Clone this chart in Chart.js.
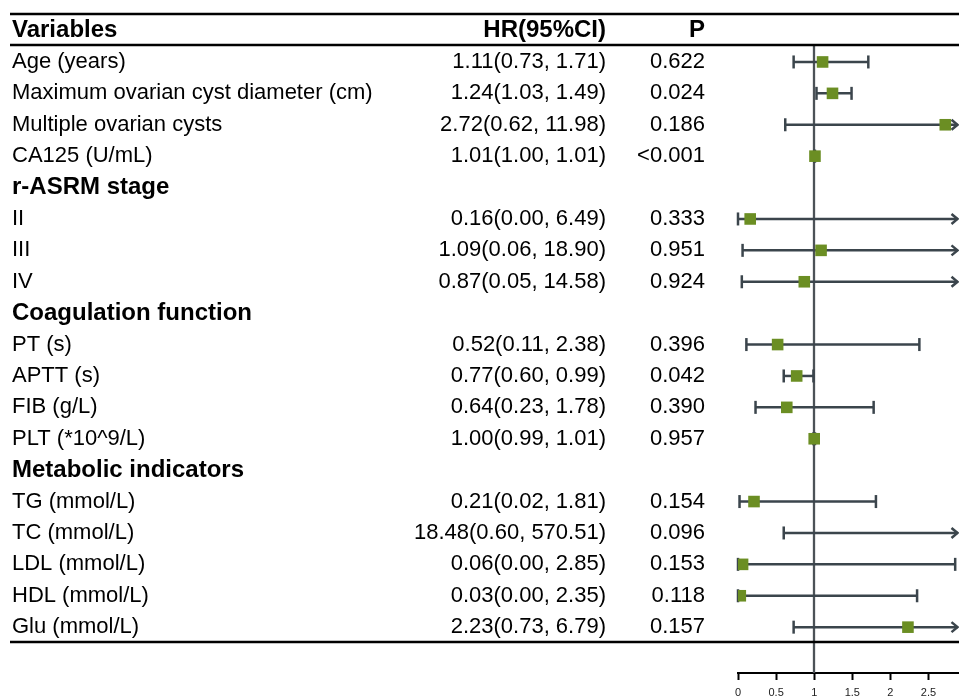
<!DOCTYPE html>
<html>
<head>
<meta charset="utf-8">
<script src="https://cdn.jsdelivr.net/npm/chart.js@4.4.1/dist/chart.umd.min.js"></script>
<style>
html,body{margin:0;padding:0;background:#fff;overflow:hidden;}
canvas{display:block;}
</style>
</head>
<body>
<canvas id="c" width="959" height="698"></canvas>
<script>
const variables = ["Age (years)", "Maximum ovarian cyst diameter (cm)", "Multiple ovarian cysts", "CA125 (U/mL)",
  "r-ASRM stage", "II", "III", "IV",
  "Coagulation function", "PT (s)", "APTT (s)", "FIB (g/L)", "PLT (*10^9/L)",
  "Metabolic indicators", "TG (mmol/L)", "TC (mmol/L)", "LDL (mmol/L)", "HDL (mmol/L)", "Glu (mmol/L)"];
const hr    = [1.11, 1.24, 2.72, 1.01, null, 0.16, 1.09, 0.87, null, 0.52, 0.77, 0.64, 1.00, null, 0.21, 18.48, 0.06, 0.03, 2.23];
const lower = [0.73, 1.03, 0.62, 1.00, null, 0.00, 0.06, 0.05, null, 0.11, 0.60, 0.23, 0.99, null, 0.02, 0.60, 0.00, 0.00, 0.73];
const upper = [1.71, 1.49, 11.98, 1.01, null, 6.49, 18.90, 14.58, null, 2.38, 0.99, 1.78, 1.01, null, 1.81, 570.51, 2.85, 2.35, 6.79];
const pValues = ["0.622", "0.024", "0.186", "<0.001", "", "0.333", "0.951", "0.924", "", "0.396", "0.042", "0.390", "0.957", "", "0.154", "0.096", "0.153", "0.118", "0.157"];
const headers = ["Variables", "HR(95%CI)", "P"];
const refValue = 1;
const xMin = 0, xMax = 2.9, xStep = 0.5;

const FONT = '"Liberation Sans", Arial, sans-serif';
const isGroup = hr.map(v => v === null);
const hrText = hr.map((v, i) => v === null ? "" : v.toFixed(2) + "(" + lower[i].toFixed(2) + ", " + upper[i].toFixed(2) + ")");

const points = [];
hr.forEach((v, i) => { if (v !== null) points.push({x: v, y: i}); });

const tablePlugin = {
  id: 'forestTable',
  beforeDatasetsDraw(chart) {
    const ctx = chart.ctx, xs = chart.scales.x, ys = chart.scales.y, ca = chart.chartArea;
    ctx.save();
    // reference line
    const rx = Math.round(xs.getPixelForValue(refValue));
    ctx.strokeStyle = '#4c5257';
    ctx.lineWidth = 2.3;
    ctx.beginPath(); ctx.moveTo(rx, ca.top); ctx.lineTo(rx, ca.bottom); ctx.stroke();
    // CI lines
    ctx.strokeStyle = '#3b454c';
    ctx.lineWidth = 2.5;
    ctx.lineCap = 'butt';
    hr.forEach((v, i) => {
      if (v === null) return;
      const y = ys.getPixelForValue(i);
      const loClip = lower[i] < xMin, hiClip = upper[i] > xMax;
      const x1 = loClip ? ca.left : xs.getPixelForValue(lower[i]);
      const x2 = hiClip ? ca.right - 1.5 : xs.getPixelForValue(upper[i]);
      ctx.beginPath(); ctx.moveTo(x1, y); ctx.lineTo(x2, y); ctx.stroke();
      const cap = 6.5;
      if (!loClip) { ctx.beginPath(); ctx.moveTo(x1, y - cap); ctx.lineTo(x1, y + cap); ctx.stroke(); }
      if (!hiClip) { ctx.beginPath(); ctx.moveTo(x2, y - cap); ctx.lineTo(x2, y + cap); ctx.stroke(); }
      else { ctx.beginPath(); ctx.moveTo(x2 - 6, y - 5); ctx.lineTo(x2, y); ctx.lineTo(x2 - 6, y + 5); ctx.stroke(); }
    });
    ctx.restore();
  },
  afterDraw(chart) {
    const ctx = chart.ctx, ys = chart.scales.y;
    ctx.save();
    ctx.fillStyle = '#000';
    ctx.textBaseline = 'middle';
    const colVarX = 12, colHRX = 606, colPX = 705;
    // header
    const hy = ys.getPixelForValue(-1);
    ctx.font = 'bold 24px ' + FONT;
    ctx.textAlign = 'left'; ctx.fillText(headers[0], colVarX, hy);
    ctx.textAlign = 'right'; ctx.fillText(headers[1], colHRX, hy);
    ctx.fillText(headers[2], colPX, hy);
    variables.forEach((name, i) => {
      const y = ys.getPixelForValue(i);
      ctx.textAlign = 'left';
      ctx.font = (isGroup[i] ? 'bold 24px ' : '22px ') + FONT;
      ctx.fillText(name, colVarX, y);
      if (!isGroup[i]) {
        ctx.font = '22px ' + FONT;
        ctx.textAlign = 'right';
        ctx.fillText(hrText[i], colHRX, y);
        ctx.fillText(pValues[i], colPX, y);
      }
    });
    // horizontal rules
    ctx.strokeStyle = '#000';
    ctx.lineWidth = 2.5;
    [-1.54, -0.54, variables.length - 0.52].forEach(v => {
      const y = Math.round(ys.getPixelForValue(v));
      ctx.beginPath(); ctx.moveTo(10, y); ctx.lineTo(959, y); ctx.stroke();
    });
    ctx.restore();
  }
};

new Chart(document.getElementById('c'), {
  type: 'scatter',
  data: {
    datasets: [{
      data: points,
      pointStyle: 'rect',
      pointRadius: 8.2,
      pointHoverRadius: 8.2,
      backgroundColor: '#6b8e23',
      borderWidth: 0
    }]
  },
  options: {
    responsive: false,
    animation: false,
    devicePixelRatio: 1,
    events: [],
    layout: { autoPadding: false, padding: { left: 738, right: 0, top: 45, bottom: 0 } },
    plugins: { legend: { display: false }, tooltip: { enabled: false } },
    scales: {
      x: {
        type: 'linear', min: xMin, max: xMax,
        afterFit(axis) { axis.height = 25; axis.paddingLeft = 0; axis.paddingRight = 0; },
        ticks: { stepSize: xStep, includeBounds: false, color: '#222', font: { size: 11, family: FONT }, padding: 6, maxRotation: 0,
                 callback: (v) => String(Number(v)) },
        grid: { drawOnChartArea: false, drawTicks: true, tickLength: 7, tickColor: '#000', tickWidth: 2 },
        border: { display: true, color: '#000', width: 2 }
      },
      y: {
        type: 'linear', display: false, reverse: true, min: -0.54, max: variables.length + 0.46
      }
    }
  },
  plugins: [tablePlugin]
});
</script>
</body>
</html>
